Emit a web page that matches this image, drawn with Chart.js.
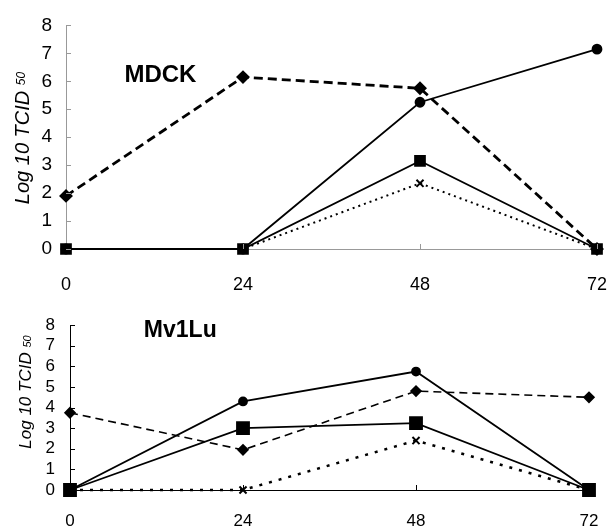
<!DOCTYPE html>
<html>
<head>
<meta charset="utf-8">
<script src="https://cdn.jsdelivr.net/npm/chart.js"></script>
<style>
html, body { margin: 0; padding: 0; background: #fff; }
canvas { display: block; }
</style>
</head>
<body>
<canvas id="mdck" width="607" height="300"></canvas>
<canvas id="mv1lu" width="607" height="231"></canvas>
<script>
// hours post infection
const hours = [0, 24, 48, 72];

// MDCK panel (log10 TCID50)
const mdckDiamond = [1.9, 6.15, 5.75, 0];
const mdckCircle = [0, 0, 5.25, 7.15];
const mdckSquare = [0, 0, 3.15, 0];
const mdckCross = [0, 0, 2.35, 0];

// Mv1Lu panel
const mvDiamond = [3.75, 1.95, 4.8, 4.5];
const mvCircle = [0, 4.3, 5.75, 0];
const mvSquare = [0, 3.0, 3.25, 0];
const mvCross = [0, 0, 2.4, 0];

const FONT = "'Liberation Sans', Arial, sans-serif";

const pts = vals => vals.map((v, i) => ({ x: hours[i], y: v }));

// draws the cell-line name, the y title with subscript and the inward ticks
const extras = {
    id: 'extras',
    afterDraw(chart, args, o) {
        const { ctx, scales: { x, y }, chartArea } = chart;
        ctx.save();
        // inward ticks
        ctx.strokeStyle = o.axisColor;
        ctx.lineWidth = 1;
        ctx.beginPath();
        for (let v = 0; v <= 8; v++) {
            const py = Math.round(y.getPixelForValue(v)) + 0.5;
            ctx.moveTo(chartArea.left, py);
            ctx.lineTo(chartArea.left + 5, py);
        }
        hours.slice(1).forEach(h => {
            const px = Math.round(x.getPixelForValue(h)) + 0.5;
            ctx.moveTo(px, chartArea.bottom);
            ctx.lineTo(px, chartArea.bottom - 5);
        });
        ctx.stroke();

        // panel name
        ctx.fillStyle = '#000';
        ctx.font = 'bold ' + o.nameSize + 'px ' + FONT;
        ctx.textAlign = 'center';
        ctx.textBaseline = 'middle';
        ctx.fillText(o.name, x.getPixelForValue(o.nameAt[0]), y.getPixelForValue(o.nameAt[1]));

        // y title: Log 10 TCID 50 (50 as subscript)
        ctx.translate(o.titleX, o.titleY);
        ctx.rotate(-Math.PI / 2);
        const main = 'Log 10 TCID ';
        const sub = '50';
        const subSize = Math.round(o.titleSize * 0.62);
        ctx.font = 'italic ' + o.titleSize + 'px ' + FONT;
        const wMain = ctx.measureText(main).width;
        ctx.font = 'italic ' + subSize + 'px ' + FONT;
        const wSub = ctx.measureText(sub).width;
        const start = -(wMain + wSub) / 2;
        const base = o.titleSize * 0.36;
        ctx.textAlign = 'left';
        ctx.textBaseline = 'alphabetic';
        ctx.font = 'italic ' + o.titleSize + 'px ' + FONT;
        ctx.fillText(main, start, base);
        ctx.font = 'italic ' + subSize + 'px ' + FONT;
        ctx.fillText(sub, start + wMain, base - o.subRaise);
        ctx.restore();
    }
};

function makePanel(id, series, cfg) {
    const common = { borderColor: '#000', backgroundColor: '#000', pointBorderColor: '#000',
                     pointBackgroundColor: '#000', clip: false, tension: 0 };
    new Chart(document.getElementById(id), {
        type: 'line',
        data: {
            datasets: [
                { ...common, data: pts(series.square), borderWidth: 1.8, pointStyle: 'rect',
                  pointRadius: cfg.squareR, order: 1 },
                { ...common, data: pts(series.circle), borderWidth: 1.8, pointStyle: 'circle',
                  pointRadius: cfg.circleR, order: 2 },
                { ...common, data: pts(series.cross), borderWidth: cfg.crossW, borderDash: cfg.crossDash,
                  pointStyle: 'crossRot', pointRadius: 5, pointBorderWidth: 2, order: 3 },
                { ...common, data: pts(series.diamond), borderWidth: cfg.diamondW, borderDash: cfg.diamondDash,
                  pointStyle: 'rectRot', pointRadius: 5, order: 0 }
            ]
        },
        options: {
            responsive: false,
            animation: false,
            layout: { padding: cfg.padding },
            plugins: { legend: { display: false }, tooltip: { enabled: false }, extras: cfg.extras },
            scales: {
                x: {
                    type: 'linear', min: 0, max: 72,
                    afterBuildTicks: s => { s.ticks = hours.map(v => ({ value: v })); },
                    afterFit: s => { s.height = cfg.xHeight; s.paddingLeft = 0; s.paddingRight = 0; },
                    grid: { display: false, drawTicks: false },
                    border: { color: cfg.axisColor, width: 1 },
                    ticks: { color: '#000', padding: cfg.xPad, maxRotation: 0, autoSkip: false,
                             font: { family: FONT, size: cfg.xFont } }
                },
                y: {
                    min: 0, max: 8,
                    afterFit: s => { s.width = cfg.yWidth; },
                    grid: { display: false, drawTicks: false },
                    border: { color: cfg.axisColor, width: 1, dash: cfg.yDash },
                    ticks: { color: '#000', stepSize: 1, autoSkip: false, padding: cfg.yPad,
                             font: { family: FONT, size: cfg.yFont } }
                }
            }
        },
        plugins: [extras]
    });
}

makePanel('mdck',
    { diamond: mdckDiamond, circle: mdckCircle, square: mdckSquare, cross: mdckCross },
    {
        padding: { top: 10, right: 10, left: 0, bottom: 0 },
        xHeight: 51, xPad: 25, xFont: 18, yWidth: 66, yPad: 14, yFont: 19,
        axisColor: '#999', yDash: [2, 2],
        squareR: 7, circleR: 4.5,
        crossW: 2, crossDash: [2, 4],
        diamondW: 2.8, diamondDash: [9, 5],
        extras: { name: 'MDCK', nameSize: 24, nameAt: [12.8, 6.2], axisColor: '#999',
                  titleX: 22, titleY: 138, titleSize: 20, subRaise: 4 }
    });

makePanel('mv1lu',
    { diamond: mvDiamond, circle: mvCircle, square: mvSquare, cross: mvCross },
    {
        padding: { top: 13, right: 18, left: 0, bottom: 0 },
        xHeight: 41, xPad: 21, xFont: 17, yWidth: 70, yPad: 15, yFont: 17,
        axisColor: '#000', yDash: [],
        squareR: 8.5, circleR: 4,
        crossW: 2.5, crossDash: [3, 7],
        diamondW: 1.6, diamondDash: [8, 5],
        extras: { name: 'Mv1Lu', nameSize: 23, nameAt: [15.3, 7.75], axisColor: '#000',
                  titleX: 25, titleY: 92, titleSize: 17, subRaise: 0 }
    });
</script>
</body>
</html>
